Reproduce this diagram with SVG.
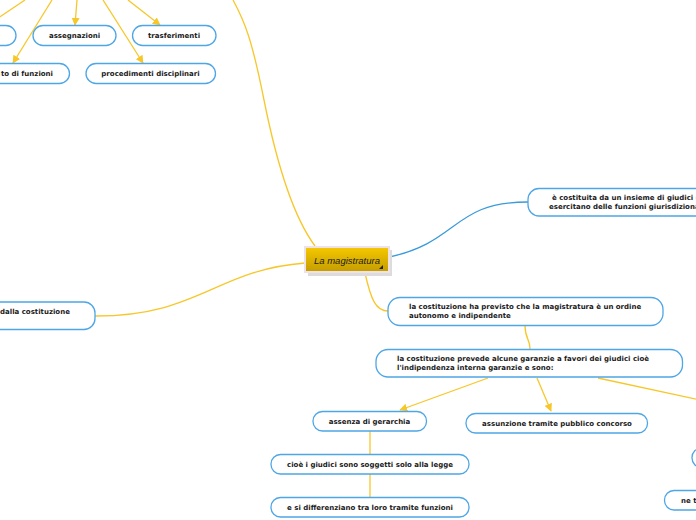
<svg xmlns="http://www.w3.org/2000/svg" width="696" height="520" viewBox="0 0 696 520">
<style>
.n rect{fill:#fff;stroke:#4ea6e6;stroke-width:1.3}
.n text{font-family:"DejaVu Sans",Verdana,sans-serif;font-weight:bold;font-size:7px;fill:#1a1a1a}
.c path,.c line{fill:none;stroke:#f7c72a;stroke-width:1.3}
.c .b{stroke:#3a9ad9}
</style>
<defs>
<marker id="ah" viewBox="0 0 10 10" refX="9" refY="5" markerWidth="8" markerHeight="8" markerUnits="userSpaceOnUse" orient="auto">
<path d="M0,0 L10,5 L0,10 z" fill="#f7c72a"/>
</marker>
<linearGradient id="gold" x1="0" y1="0" x2="0" y2="1">
<stop offset="0" stop-color="#f5c900"/>
<stop offset="1" stop-color="#c49c00"/>
</linearGradient>
</defs>
<g id="connectors" class="c">
<path d="M315,246 C 292,215 276,160 264,100 S 245,22 233,0"/>
<path d="M305,263 C 215,270 200,316 95,316"/>
<path class="b" d="M389,257 C 460,242 452,202 528,202"/>
<path d="M365,273 C 371,300 376,311 388,311"/>
<path d="M525,325 C 525,340 530,338 530,349"/>
<line x1="488" y1="378" x2="400" y2="410" marker-end="url(#ah)"/>
<line x1="537" y1="378" x2="551" y2="411" marker-end="url(#ah)"/>
<line x1="598" y1="378" x2="700" y2="400"/>
<line x1="370" y1="431" x2="370" y2="454"/>
<line x1="370" y1="474" x2="370" y2="497"/>
<line x1="25" y1="0" x2="-2" y2="18"/>
<line x1="52" y1="0" x2="13" y2="63" marker-end="url(#ah)"/>
<line x1="77" y1="0" x2="75" y2="25" marker-end="url(#ah)"/>
<line x1="103" y1="0" x2="143" y2="63" marker-end="url(#ah)"/>
<line x1="128" y1="0" x2="160" y2="25" marker-end="url(#ah)"/>
</g>
<g id="n-left-top" class="n"><rect x="-60" y="25.5" width="76" height="20" rx="10"/></g>
<g id="n-assegnazioni" class="n"><rect x="33" y="25.5" width="83" height="20" rx="10"/><text x="74.5" y="38" text-anchor="middle">assegnazioni</text></g>
<g id="n-trasferimenti" class="n"><rect x="132.5" y="25.5" width="83.5" height="20" rx="10"/><text x="174" y="38" text-anchor="middle">trasferimenti</text></g>
<g id="n-funzioni" class="n"><rect x="-60" y="63.5" width="129.5" height="20" rx="10"/><text x="53" y="76" text-anchor="end">to di funzioni</text></g>
<g id="n-procedimenti" class="n"><rect x="86" y="63.5" width="129.5" height="20" rx="10"/><text x="150.5" y="76" text-anchor="middle">procedimenti disciplinari</text></g>
<g id="n-center">
<rect x="308" y="250" width="84" height="26" fill="#dcdcdc"/>
<rect x="305" y="247" width="84" height="25" fill="url(#gold)" stroke="#eee2e8" stroke-width="2"/>
<text x="347" y="264" text-anchor="middle" font-family="'Liberation Sans',Arial,sans-serif" font-style="italic" font-size="9.5" fill="#1a1a1a">La magistratura</text>
<path d="M379,269 L383,265 L383,269 z" fill="#222"/>
</g>
<g id="n-costituita" class="n"><rect x="528" y="188.5" width="230" height="27.5" rx="11"/><text x="552" y="199.5">è costituita da un insieme di giudici che</text><text x="549" y="208.5">esercitano delle funzioni giurisdizionali</text></g>
<g id="n-dalla" class="n"><rect x="-100" y="302" width="195" height="27.5" rx="11"/><text x="0" y="314">dalla costituzione</text></g>
<g id="n-previsto" class="n"><rect x="388" y="297.5" width="275" height="28" rx="12"/><text x="409" y="308.5">la costituzione ha previsto che la magistratura è un ordine</text><text x="409" y="317.5">autonomo e indipendente</text></g>
<g id="n-garanzie" class="n"><rect x="376" y="349.5" width="306.5" height="27.5" rx="12"/><text x="397" y="361">la costituzione prevede alcune garanzie a favori dei giudici cioè</text><text x="397" y="370">l'indipendenza interna garanzie e sono:</text></g>
<g id="n-assenza" class="n"><rect x="313" y="411.5" width="113.5" height="19.5" rx="9.5"/><text x="369.5" y="424" text-anchor="middle">assenza di gerarchia</text></g>
<g id="n-assunzione" class="n"><rect x="466" y="413.5" width="181.5" height="19.5" rx="9.5"/><text x="557" y="426" text-anchor="middle">assunzione tramite pubblico concorso</text></g>
<g id="n-cioe" class="n"><rect x="271" y="454.5" width="198" height="19.5" rx="9.5"/><text x="370" y="467" text-anchor="middle">cioè i giudici sono soggetti solo alla legge</text></g>
<g id="n-differenziano" class="n"><rect x="271" y="497.5" width="198" height="19.5" rx="9.5"/><text x="370" y="510" text-anchor="middle">e si differenziano tra loro tramite funzioni</text></g>
<g id="n-right-mid" class="n"><rect x="692" y="448" width="80" height="19.5" rx="9.5"/></g>
<g id="n-ne" class="n"><rect x="664.5" y="490.5" width="120" height="19.5" rx="9.5"/><text x="681" y="503">ne t</text></g>
</svg>
